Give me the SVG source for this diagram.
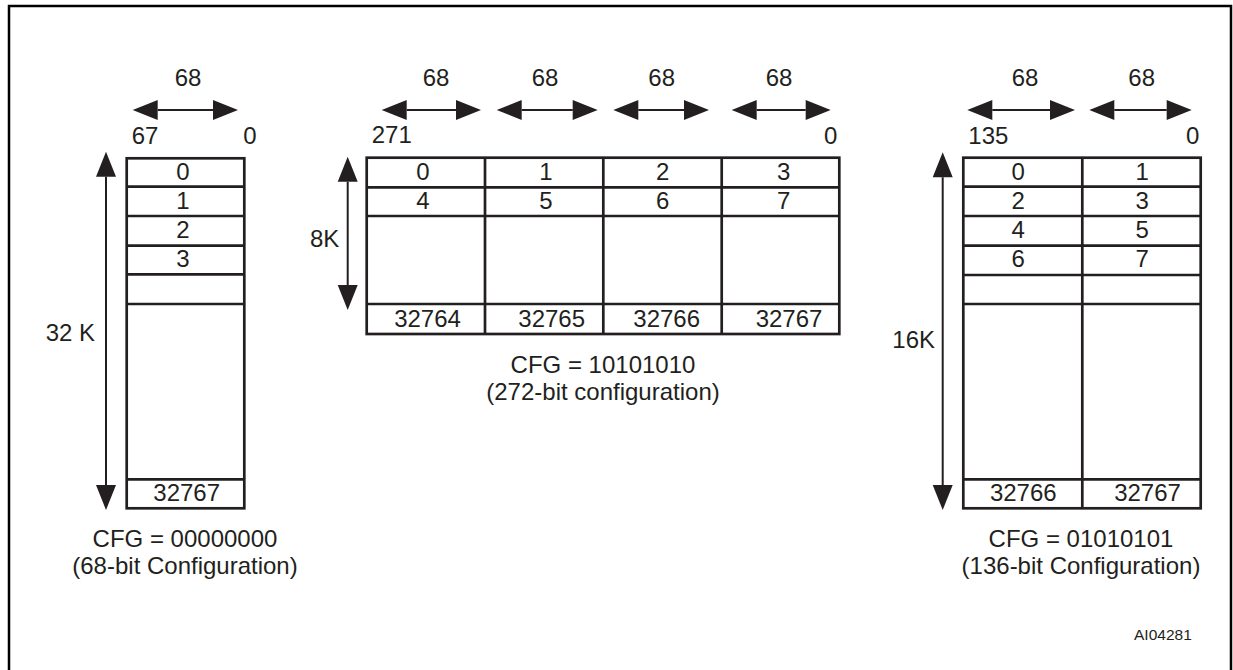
<svg xmlns="http://www.w3.org/2000/svg" width="1233" height="670" viewBox="0 0 1233 670">
<defs>
<marker id="ah" markerUnits="userSpaceOnUse" markerWidth="25" markerHeight="20" viewBox="0 -10 25 20" refX="0" refY="0" orient="auto-start-reverse" overflow="visible">
<path d="M0,-10 L25,0 L0,10 Z" fill="#231f20"/>
</marker>
</defs>
<style>
text{font-family:"Liberation Sans",Arial,sans-serif;font-size:24px;fill:#231f20}
.m{text-anchor:middle}
.e{text-anchor:end}
.box{fill:none;stroke:#231f20;stroke-width:2.7}
.ln{stroke:#231f20;stroke-width:2.7}
.arr{stroke:#231f20;stroke-width:2;marker-start:url(#ah);marker-end:url(#ah)}
.small{font-size:15.5px}
</style>
<rect x="0" y="0" width="1233" height="670" fill="#ffffff"/>
<path d="M9,680 L9,6 L1231,6 L1231,680" fill="none" stroke="#000" stroke-width="2.5"/>

<g id="connectors">
<line class="arr" x1="157.7" y1="110" x2="213" y2="110"/>
<line class="arr" x1="106" y1="176.7" x2="106" y2="485"/>
<line class="arr" x1="406.7" y1="110" x2="456" y2="110"/>
<line class="arr" x1="521.7" y1="110" x2="572.7" y2="110"/>
<line class="arr" x1="638.3" y1="110" x2="684" y2="110"/>
<line class="arr" x1="756.7" y1="110" x2="805.7" y2="110"/>
<line class="arr" x1="347.7" y1="181.7" x2="347.7" y2="285"/>
<line class="arr" x1="992.3" y1="110" x2="1050" y2="110"/>
<line class="arr" x1="1114.3" y1="110" x2="1166.7" y2="110"/>
<line class="arr" x1="942.7" y1="177.3" x2="942.7" y2="485"/>
</g>

<g id="cfg68">
<text class="m" x="188" y="86">68</text>
<text x="131.7" y="144">67</text>
<text class="e" x="256.7" y="144">0</text>
<rect class="box" x="126.7" y="158.3" width="117.6" height="350"/>
<line class="ln" x1="126.7" y1="186.7" x2="244.3" y2="186.7"/>
<line class="ln" x1="126.7" y1="216" x2="244.3" y2="216"/>
<line class="ln" x1="126.7" y1="245.7" x2="244.3" y2="245.7"/>
<line class="ln" x1="126.7" y1="274.3" x2="244.3" y2="274.3"/>
<line class="ln" x1="126.7" y1="304" x2="244.3" y2="304"/>
<line class="ln" x1="126.7" y1="479.3" x2="244.3" y2="479.3"/>
<text class="m" x="183" y="180">0</text>
<text class="m" x="183" y="209">1</text>
<text class="m" x="183" y="238.3">2</text>
<text class="m" x="183" y="267.3">3</text>
<text class="m" x="186.7" y="500.7">32767</text>
<text class="e" x="95" y="340.7">32 K</text>
<text class="m" x="185" y="547">CFG = 00000000</text>
<text class="m" x="185" y="574">(68-bit Configuration)</text>
</g>

<g id="cfg272">
<text class="m" x="436" y="86">68</text>
<text class="m" x="545" y="86">68</text>
<text class="m" x="661.7" y="86">68</text>
<text class="m" x="779" y="86">68</text>
<text x="371.7" y="143.3">271</text>
<text class="e" x="837.3" y="144">0</text>
<rect class="box" x="366.7" y="157.7" width="472.6" height="176.3"/>
<line class="ln" x1="485" y1="157.7" x2="485" y2="334"/>
<line class="ln" x1="603.3" y1="157.7" x2="603.3" y2="334"/>
<line class="ln" x1="721.7" y1="157.7" x2="721.7" y2="334"/>
<line class="ln" x1="366.7" y1="187.3" x2="839.3" y2="187.3"/>
<line class="ln" x1="366.7" y1="216" x2="839.3" y2="216"/>
<line class="ln" x1="366.7" y1="304" x2="839.3" y2="304"/>
<text class="m" x="423" y="180">0</text>
<text class="m" x="546" y="180">1</text>
<text class="m" x="662.7" y="180">2</text>
<text class="m" x="783.8" y="180">3</text>
<text class="m" x="423" y="209">4</text>
<text class="m" x="546" y="209">5</text>
<text class="m" x="662.7" y="209">6</text>
<text class="m" x="783.8" y="209">7</text>
<text class="m" x="427.5" y="326.7">32764</text>
<text class="m" x="551.7" y="326.7">32765</text>
<text class="m" x="666.7" y="326.7">32766</text>
<text class="m" x="789" y="326.7">32767</text>
<text class="e" x="339.3" y="246.7">8K</text>
<text class="m" x="603" y="373">CFG = 10101010</text>
<text class="m" x="603" y="400">(272-bit configuration)</text>
</g>

<g id="cfg136">
<text class="m" x="1025" y="86">68</text>
<text class="m" x="1141.7" y="86">68</text>
<text x="968.3" y="144">135</text>
<text class="e" x="1199.3" y="144">0</text>
<rect class="box" x="963.3" y="157.7" width="237.4" height="350.6"/>
<line class="ln" x1="1082.3" y1="157.7" x2="1082.3" y2="508.3"/>
<line class="ln" x1="963.3" y1="186.7" x2="1200.7" y2="186.7"/>
<line class="ln" x1="963.3" y1="216" x2="1200.7" y2="216"/>
<line class="ln" x1="963.3" y1="245.7" x2="1200.7" y2="245.7"/>
<line class="ln" x1="963.3" y1="275" x2="1200.7" y2="275"/>
<line class="ln" x1="963.3" y1="304" x2="1200.7" y2="304"/>
<line class="ln" x1="963.3" y1="479.3" x2="1200.7" y2="479.3"/>
<text class="m" x="1018.3" y="180">0</text>
<text class="m" x="1142.3" y="180">1</text>
<text class="m" x="1018.3" y="209">2</text>
<text class="m" x="1142.3" y="209">3</text>
<text class="m" x="1018.3" y="238.3">4</text>
<text class="m" x="1142.3" y="238.3">5</text>
<text class="m" x="1018.3" y="267.3">6</text>
<text class="m" x="1142.3" y="267.3">7</text>
<text class="m" x="1023.3" y="501">32766</text>
<text class="m" x="1147.5" y="501">32767</text>
<text class="e" x="935" y="347.7">16K</text>
<text class="m" x="1081" y="547">CFG = 01010101</text>
<text class="m" x="1081" y="574">(136-bit Configuration)</text>
</g>

<text class="small" x="1134" y="640">AI04281</text>
</svg>
